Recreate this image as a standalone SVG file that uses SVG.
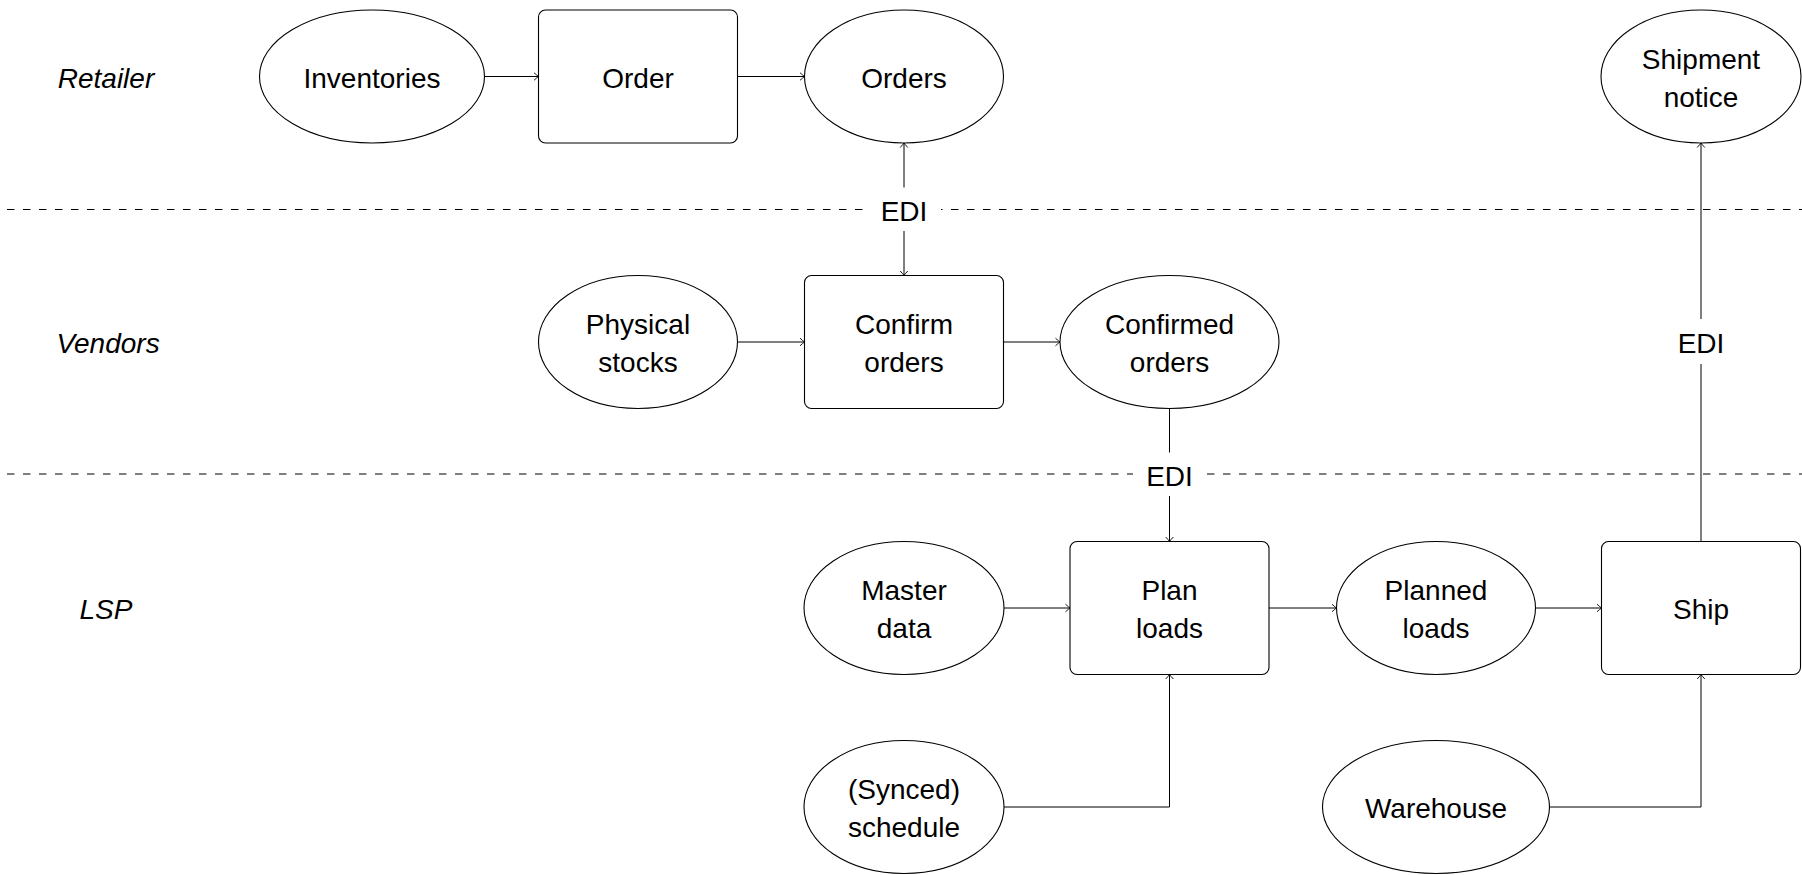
<svg xmlns="http://www.w3.org/2000/svg" width="1802" height="875" viewBox="0 0 1802 875">
<style>
  .node { fill: #ffffff; stroke: #000000; stroke-width: 1.1; }
  .lbl { font-family: "Liberation Sans", Arial, sans-serif; font-size: 28px; fill: #000000; text-anchor: middle; }
  .lane { font-family: "Liberation Sans", Arial, sans-serif; font-size: 28px; font-style: italic; fill: #000000; text-anchor: middle; }
  .edge { fill: none; stroke: #000000; stroke-width: 1; }
  .sep { fill: none; stroke: #000000; stroke-width: 1.1; stroke-dasharray: 7.5 8.5; }
  .bg { fill: #ffffff; stroke: none; }
</style>
<defs>
  <marker id="arr" viewBox="-6 -5 8 10" markerWidth="8" markerHeight="10" refX="0" refY="0" orient="auto" markerUnits="userSpaceOnUse">
    <path d="M -4.5 -3.8 Q -1.2 -0.8 0 0 Q -1.2 0.8 -4.5 3.8" fill="none" stroke="#000000" stroke-width="0.9"/>
  </marker>
</defs>
<rect width="1802" height="875" fill="#ffffff"/>

<g id="lanes">
  <text class="lane" x="106" y="88">Retailer</text>
  <text class="lane" x="108" y="353">Vendors</text>
  <text class="lane" x="106" y="619">LSP</text>
  <line class="sep" x1="7" y1="209.5" x2="1802" y2="209.5"/>
  <line class="sep" x1="7" y1="474" x2="1802" y2="474"/>
</g>

<g id="connectors">
  <line class="edge" x1="484.5" y1="76.5" x2="538.5" y2="76.5" marker-end="url(#arr)"/>
  <line class="edge" x1="737.5" y1="76.5" x2="804.5" y2="76.5" marker-end="url(#arr)"/>
  <line class="edge" x1="904" y1="209" x2="904" y2="143" marker-end="url(#arr)"/>
  <line class="edge" x1="904" y1="209" x2="904" y2="275.5" marker-end="url(#arr)"/>
  <line class="edge" x1="737.5" y1="342" x2="804.5" y2="342" marker-end="url(#arr)"/>
  <line class="edge" x1="1003.5" y1="342" x2="1060" y2="342" marker-end="url(#arr)"/>
  <line class="edge" x1="1169.5" y1="408.5" x2="1169.5" y2="541.5" marker-end="url(#arr)"/>
  <line class="edge" x1="1701" y1="541.5" x2="1701" y2="143" marker-end="url(#arr)"/>
  <line class="edge" x1="1004" y1="608" x2="1070" y2="608" marker-end="url(#arr)"/>
  <line class="edge" x1="1269" y1="608" x2="1336.5" y2="608" marker-end="url(#arr)"/>
  <line class="edge" x1="1535.5" y1="608" x2="1601.5" y2="608" marker-end="url(#arr)"/>
  <path class="edge" d="M 1004 807 H 1169.5 V 674.5" marker-end="url(#arr)"/>
  <path class="edge" d="M 1549.5 807 H 1701 V 674.5" marker-end="url(#arr)"/>
</g>

<g id="edi1">
  <rect class="bg" x="868" y="187.5" width="73" height="43.5"/>
  <text class="lbl" x="904" y="220.5">EDI</text>
</g>
<g id="edi2">
  <rect class="bg" x="1133" y="452.5" width="73" height="43.5"/>
  <text class="lbl" x="1169.5" y="485.5">EDI</text>
</g>
<g id="edi3">
  <rect class="bg" x="1665" y="319" width="73" height="45"/>
  <text class="lbl" x="1701" y="353">EDI</text>
</g>

<g id="inventories">
  <ellipse class="node" cx="372" cy="76.5" rx="112.5" ry="66.5"/>
  <text class="lbl" x="372" y="87.5">Inventories</text>
</g>
<g id="order">
  <rect class="node" x="538.5" y="10" width="199" height="133" rx="7"/>
  <text class="lbl" x="638" y="87.5">Order</text>
</g>
<g id="orders">
  <ellipse class="node" cx="904" cy="76.5" rx="99.5" ry="66.5"/>
  <text class="lbl" x="904" y="87.5">Orders</text>
</g>
<g id="shipment-notice">
  <ellipse class="node" cx="1701" cy="76.5" rx="100" ry="66.5"/>
  <text class="lbl" x="1701" y="68.5">Shipment</text>
  <text class="lbl" x="1701" y="106.5">notice</text>
</g>
<g id="physical-stocks">
  <ellipse class="node" cx="638" cy="342" rx="99.5" ry="66.5"/>
  <text class="lbl" x="638" y="334">Physical</text>
  <text class="lbl" x="638" y="372">stocks</text>
</g>
<g id="confirm-orders">
  <rect class="node" x="804.5" y="275.5" width="199" height="133" rx="7"/>
  <text class="lbl" x="904" y="334">Confirm</text>
  <text class="lbl" x="904" y="372">orders</text>
</g>
<g id="confirmed-orders">
  <ellipse class="node" cx="1169.5" cy="342" rx="109.5" ry="66.5"/>
  <text class="lbl" x="1169.5" y="334">Confirmed</text>
  <text class="lbl" x="1169.5" y="372">orders</text>
</g>
<g id="master-data">
  <ellipse class="node" cx="904" cy="608" rx="100" ry="66.5"/>
  <text class="lbl" x="904" y="600">Master</text>
  <text class="lbl" x="904" y="638">data</text>
</g>
<g id="plan-loads">
  <rect class="node" x="1070" y="541.5" width="199" height="133" rx="7"/>
  <text class="lbl" x="1169.5" y="600">Plan</text>
  <text class="lbl" x="1169.5" y="638">loads</text>
</g>
<g id="planned-loads">
  <ellipse class="node" cx="1436" cy="608" rx="99.5" ry="66.5"/>
  <text class="lbl" x="1436" y="600">Planned</text>
  <text class="lbl" x="1436" y="638">loads</text>
</g>
<g id="ship">
  <rect class="node" x="1601.5" y="541.5" width="199" height="133" rx="7"/>
  <text class="lbl" x="1701" y="619">Ship</text>
</g>
<g id="synced-schedule">
  <ellipse class="node" cx="904" cy="807" rx="100" ry="66.5"/>
  <text class="lbl" x="904" y="799">(Synced)</text>
  <text class="lbl" x="904" y="837">schedule</text>
</g>
<g id="warehouse">
  <ellipse class="node" cx="1436" cy="807" rx="113.5" ry="66.5"/>
  <text class="lbl" x="1436" y="818">Warehouse</text>
</g>
</svg>
